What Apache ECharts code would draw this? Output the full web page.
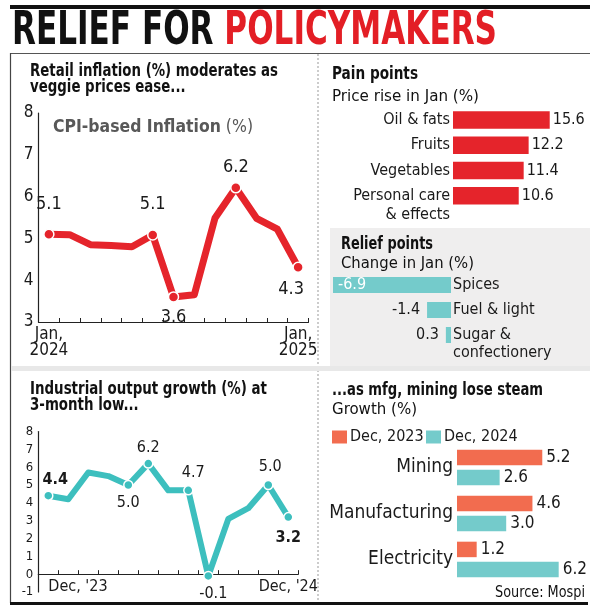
<!DOCTYPE html>
<html><head><meta charset="utf-8">
<script src="https://cdn.jsdelivr.net/npm/echarts@6/dist/echarts.min.js"></script>
<style>html,body{margin:0;padding:0;background:#fff}#c{width:600px;height:615px}</style>
</head><body><div id="c"></div>
<script>
// ---------- DATA ----------
const cpiMonths = ['Jan 2024','Feb','Mar','Apr','May','Jun','Jul','Aug','Sep','Oct','Nov','Dec','Jan 2025'];
const cpiValues = [5.1, 5.09, 4.85, 4.83, 4.8, 5.08, 3.6, 3.65, 5.49, 6.21, 5.48, 5.22, 4.31];
const cpiTickLabels = ['Jan,\n2024', 'Jan,\n2025'];
const painCats = ['Oil & fats', 'Fruits', 'Vegetables', 'Personal care\n& effects'];
const painValues = [15.6, 12.2, 11.4, 10.6];
const reliefCats = ['Spices', 'Fuel & light', 'Sugar &\nconfectionery'];
const reliefValues = [-6.9, -1.4, 0.3];
const iipMonths = ["Dec '23",'Jan','Feb','Mar','Apr','May','Jun','Jul','Aug','Sep','Oct','Nov',"Dec '24"];
const iipValues = [4.4, 4.2, 5.7, 5.5, 5.0, 6.2, 4.7, 4.7, -0.1, 3.1, 3.7, 5.0, 3.2];
const iipTickLabels = ["Dec, '23", "Dec, '24"];
const sectorCats = ['Mining', 'Manufacturing', 'Electricity'];
const sector2023 = [5.2, 4.6, 1.2];
const sector2024 = [2.6, 3.0, 6.2];
const legendNames = ['Dec, 2023', 'Dec, 2024'];

// ---------- FONTS ----------
function hasFont(name){
  const c = document.createElement('canvas').getContext('2d');
  const s = 'abcdefghijklmnopqrstuvwxyzABCDEFGHIJ0123456789';
  c.font = '40px monospace'; const w1 = c.measureText(s).width;
  c.font = '40px "' + name + '", monospace'; const w2 = c.measureText(s).width;
  c.font = '40px serif'; const w3 = c.measureText(s).width;
  c.font = '40px "' + name + '", serif'; const w4 = c.measureText(s).width;
  return w1 !== w2 || w3 !== w4;
}
const cands = ['Liberation Sans Narrow', 'DejaVu Sans Condensed', 'Roboto Condensed', 'Roboto'];
let NARROW = 'Roboto';
for (const f of cands) { if (hasFont(f)) { NARROW = f; break; } }
const FONT = '"' + NARROW + '", Roboto, sans-serif';
const mctx = document.createElement('canvas').getContext('2d');
function measure(s, size, weight){ mctx.font = weight + ' ' + size + 'px ' + FONT; return mctx.measureText(s).width; }
function T(s, x, y, size, weight, fill, targetW, align){
  const w = measure(s, size, weight);
  const sx = targetW ? targetW / w : 1;
  return { type: 'text', x: x, y: y, scaleX: sx, z: 20,
    style: { text: s, x: 0, y: 0, fontSize: size, fontWeight: weight, fontFamily: FONT, fill: fill,
      align: align || 'left', verticalAlign: 'middle', textAlign: align || 'left', textVerticalAlign: 'middle' } };
}

const INK = '#1a1a1a';
const RED = '#e5242b';
const TEAL_LINE = '#3dbfbe';
const TEAL_BAR = '#74cbcb';
const ORANGE = '#f26c4f';

// ---------- GRAPHICS ----------
const g = [];
g.push({ type: 'rect', z: 1, shape: { x: 10, y: 5, width: 580, height: 4 }, style: { fill: '#111' } });
{
  const s1 = 'RELIEF FOR ', s2 = 'POLICYMAKERS';
  const size = 46;
  const wAll = measure(s1 + s2, size, 'bold');
  const sx = 485 / wAll;
  const w1 = measure(s1, size, 'bold') * sx;
  const a = T(s1, 12, 32, size, 'bold', '#111'); a.scaleX = sx; g.push(a);
  const b = T(s2, 12 + w1, 32, size, 'bold', '#e31e25'); b.scaleX = sx; g.push(b);
}
g.push({ type: 'rect', z: 0, shape: { x: 330, y: 228, width: 260, height: 138 }, style: { fill: '#efeeee' } });
g.push({ type: 'line', z: 1, shape: { x1: 10, y1: 53.5, x2: 590, y2: 53.5 }, style: { stroke: '#555', lineWidth: 1 } });
g.push({ type: 'line', z: 1, shape: { x1: 10.5, y1: 53, x2: 10.5, y2: 603 }, style: { stroke: '#444', lineWidth: 1.2 } });
g.push({ type: 'line', z: 1, shape: { x1: 318, y1: 54, x2: 318, y2: 602 }, style: { stroke: '#999', lineWidth: 1, lineDash: [2, 2] } });
g.push({ type: 'rect', z: 1, shape: { x: 11, y: 366, width: 579, height: 5 }, style: { fill: '#e8e8e8' } });
g.push({ type: 'rect', z: 1, shape: { x: 10, y: 602, width: 578, height: 3 }, style: { fill: '#111' } });

{
  const h1 = T('Retail inflation (%) moderates as', 30, 71.5, 18, 'bold', '#111', 248); g.push(h1);
  const h2 = T('veggie prices ease...', 30, 87.5, 18, 'bold', '#111'); h2.scaleX = h1.scaleX; g.push(h2);
  const c1 = T('CPI-based Inflation', 53, 127, 18, 'bold', '#585858');
  const c2w = measure(' (%)', 18, 'normal');
  const c1w = measure('CPI-based Inflation', 18, 'bold');
  const sc = 200 / (c1w + c2w); c1.scaleX = sc; g.push(c1);
  const c2 = T(' (%)', 53 + c1w * sc, 127, 18, 'normal', '#585858'); c2.scaleX = sc; g.push(c2);
  g.push(T('Pain points', 332, 74, 18, 'bold', '#111', 86));
  g.push(T('Price rise in Jan (%)', 332, 96.5, 16, 'normal', '#111', 147));
  g.push(T('Relief points', 341, 244, 18, 'bold', '#111', 92));
  g.push(T('Change in Jan (%)', 341, 264, 16, 'normal', '#111', 133));
  const i1 = T('Industrial output growth (%) at', 30, 389.5, 18, 'bold', '#111', 237); g.push(i1);
  const i2 = T('3-month low...', 30, 405.5, 18, 'bold', '#111'); i2.scaleX = i1.scaleX; g.push(i2);
  g.push(T('...as mfg, mining lose steam', 332, 390, 18, 'bold', '#111', 211));
  g.push(T('Growth (%)', 332, 410, 16, 'normal', '#111', 85));
  g.push(T('Source: Mospi', 585, 593, 15, 'normal', '#111', 90, 'right'));
}

const cpiLbl = {
  0: { position: 'top', distance: 15 },
  5: { position: 'top', distance: 16 },
  6: { position: 'bottom', distance: 6 },
  9: { position: 'top', distance: 6 },
  12: { position: 'bottom', distance: 7, offset: [-7, 0] }
};
const iipLbl = {
  0: { position: 'top', distance: 3, offset: [7, 0], fontWeight: 'bold', fontSize: 16 },
  4: { position: 'bottom', distance: 5 },
  5: { position: 'top', distance: 3 },
  7: { position: 'top', distance: 4, offset: [5, 0] },
  8: { position: 'bottom', distance: 5, offset: [5, 0] },
  11: { position: 'top', distance: 5, offset: [2, 0] },
  12: { position: 'bottom', distance: 7, fontWeight: 'bold', fontSize: 16 }
};
function pointData(vals, cfg, color, size){
  return vals.map((v, i) => cfg[i]
    ? { value: v, symbol: 'circle', symbolSize: size,
        itemStyle: { color: color, borderColor: '#fff', borderWidth: 1.5 },
        label: Object.assign({ show: true }, cfg[i]) }
    : { value: v, symbol: 'none' });
}
// multi-line category names: first line sits level with the bar
const hangFirstLine = v => v.indexOf('\n') >= 0 ? ' \n' + v : v;
const axisLblBase = { color: INK, fontFamily: FONT };
const legW = measure(legendNames[0], 16, 'normal');
const legGap = Math.max(2, 426 - (332 + 15 + 3 + legW));

const option = {
  backgroundColor: '#fff',
  animation: false,
  textStyle: { fontFamily: FONT },
  graphic: g,
  legend: {
    data: legendNames, left: 332, top: 429, itemWidth: 15, itemHeight: 13, itemGap: legGap, padding: 0,
    icon: 'rect', textStyle: { fontSize: 16, color: INK, fontFamily: FONT, padding: [0, 0, 0, -2] }
  },
  grid: [
    { left: 38.5, top: 113, width: 270, height: 209, outerBoundsMode: 'none' },
    { left: 453, top: 107.5, width: 124, height: 100.8, outerBoundsMode: 'none' },
    { left: 314.2, top: 272.5, width: 136.8, height: 75, outerBoundsMode: 'none' },
    { left: 38.3, top: 431.5, width: 260, height: 160.5, outerBoundsMode: 'none' },
    { left: 457, top: 444.5, width: 131.2, height: 138, outerBoundsMode: 'none' }
  ],
  xAxis: [
    { gridIndex: 0, type: 'category', data: cpiMonths, boundaryGap: true,
      axisLine: { lineStyle: { color: '#222', width: 1.2 } },
      axisTick: { show: true, inside: true, length: 4, interval: 0, lineStyle: { color: '#222' } },
      axisLabel: Object.assign({ fontSize: 17, lineHeight: 16, margin: 5,
        interval: (i) => i === 0 || i === cpiMonths.length - 1,
        formatter: (v, i) => i === 0 ? cpiTickLabels[0] : cpiTickLabels[1] }, axisLblBase) },
    { gridIndex: 1, type: 'value', min: 0, max: 20, show: false },
    { gridIndex: 2, type: 'value', min: 0, max: 8, inverse: true, show: false },
    { gridIndex: 3, type: 'category', data: iipMonths.map((m, i) => i === 0 ? { value: m, textStyle: { align: 'left' } } : m), boundaryGap: true,
      axisLine: { onZero: true, lineStyle: { color: '#222', width: 1.2 } },
      axisTick: { show: true, inside: true, length: 4, interval: 0, lineStyle: { color: '#222' } },
      axisLabel: Object.assign({ fontSize: 16, margin: -13,
        interval: (i) => i === 0 || i === iipMonths.length - 1,
        formatter: (v, i) => i === 0 ? iipTickLabels[0] : iipTickLabels[1] }, axisLblBase) },
    { gridIndex: 4, type: 'value', min: 0, max: 8, show: false }
  ],
  yAxis: [
    { gridIndex: 0, type: 'value', min: 3, max: 8, interval: 1,
      axisLine: { show: true, lineStyle: { color: '#222', width: 1.2 } }, axisTick: { show: false }, splitLine: { show: false },
      axisLabel: Object.assign({ fontSize: 17, margin: 5 }, axisLblBase) },
    { gridIndex: 1, type: 'category', data: painCats,
      inverse: true, axisLine: { show: false }, axisTick: { show: false },
      axisLabel: Object.assign({ fontSize: 16, lineHeight: 19, margin: 3, interval: 0, hideOverlap: false, formatter: hangFirstLine }, axisLblBase) },
    { gridIndex: 2, type: 'category', data: reliefCats,
      inverse: true, position: 'right', axisLine: { show: false }, axisTick: { show: false },
      axisLabel: Object.assign({ fontSize: 16, lineHeight: 18, margin: 2, interval: 0, hideOverlap: false, formatter: hangFirstLine }, axisLblBase) },
    { gridIndex: 3, type: 'value', min: -1, max: 8, interval: 1,
      axisLine: { show: true, lineStyle: { color: '#222', width: 1.2 } }, axisTick: { show: false }, splitLine: { show: false },
      axisLabel: Object.assign({ fontSize: 13, margin: 5 }, axisLblBase) },
    { gridIndex: 4, type: 'category', data: sectorCats, inverse: true,
      axisLine: { show: false }, axisTick: { show: false },
      axisLabel: Object.assign({ fontSize: 19, margin: 4, padding: [0, 0, 6, 0], interval: 0 }, axisLblBase) }
  ],
  series: [
    { type: 'line', xAxisIndex: 0, yAxisIndex: 0, data: pointData(cpiValues, cpiLbl, RED, 10),
      showAllSymbol: true, lineStyle: { color: RED, width: 7, join: 'round', cap: 'round' }, itemStyle: { color: RED },
      label: { fontSize: 18, color: INK, fontFamily: FONT, formatter: p => p.value.toFixed(1) }, z: 3 },
    { type: 'bar', xAxisIndex: 1, yAxisIndex: 1, data: painValues, barWidth: 17.5,
      itemStyle: { color: RED },
      label: { show: true, position: 'right', distance: 3, fontSize: 16, color: INK, fontFamily: FONT, formatter: p => p.value.toFixed(1) } },
    { type: 'bar', xAxisIndex: 2, yAxisIndex: 2, barWidth: 16,
      data: reliefValues.map((v, i) => ({ value: Math.abs(v),
        label: i === 0 ? { position: 'insideLeft', color: '#fff', distance: 5 } : { position: 'left', distance: 7 } })),
      itemStyle: { color: TEAL_BAR },
      label: { show: true, fontSize: 16, color: INK, fontFamily: FONT, formatter: p => reliefValues[p.dataIndex].toFixed(1) } },
    { type: 'line', xAxisIndex: 3, yAxisIndex: 3, data: pointData(iipValues, iipLbl, TEAL_LINE, 9),
      showAllSymbol: true, lineStyle: { color: TEAL_LINE, width: 6, join: 'round', cap: 'round' }, itemStyle: { color: TEAL_LINE },
      label: { fontSize: 16, color: INK, fontFamily: FONT, formatter: p => p.value.toFixed(1) }, z: 3 },
    { name: legendNames[0], type: 'bar', xAxisIndex: 4, yAxisIndex: 4, data: sector2023, barWidth: 15.5, barGap: '30%',
      itemStyle: { color: ORANGE },
      label: { show: true, position: 'right', distance: 4, fontSize: 17, color: INK, fontFamily: FONT, formatter: p => p.value.toFixed(1) } },
    { name: legendNames[1], type: 'bar', xAxisIndex: 4, yAxisIndex: 4, data: sector2024, barWidth: 15.5, barGap: '30%',
      itemStyle: { color: TEAL_BAR },
      label: { show: true, position: 'right', distance: 4, fontSize: 17, color: INK, fontFamily: FONT, formatter: p => p.value.toFixed(1) } }
  ]
};
const chart = echarts.init(document.getElementById('c'), null, { renderer: 'canvas' });
chart.setOption(option);
</script>
</body></html>
